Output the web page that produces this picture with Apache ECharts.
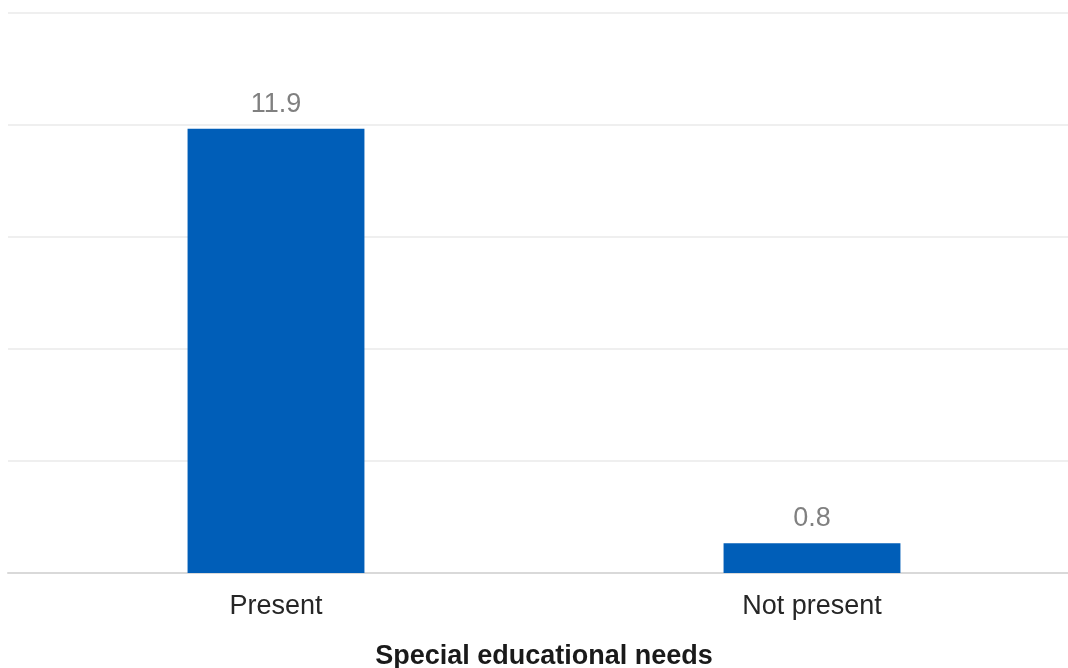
<!DOCTYPE html>
<html>
<head>
<meta charset="utf-8">
<script src="https://cdn.jsdelivr.net/npm/echarts@6/dist/echarts.min.js"></script>
<style>html,body{margin:0;padding:0;background:#fff}#c{width:1068px;height:668px}</style>
</head>
<body>
<div id="c"></div>
<script>
const categories = ['Present', 'Not present'];
const values = [11.9, 0.8];
const axisTitle = 'Special educational needs';

const chart = echarts.init(document.getElementById('c'), null, {renderer: 'canvas'});
chart.setOption({
  animation: false,
  grid: {left: 8, top: 13, bottom: 95, width: 1072, containLabel: false, outerBoundsMode: 'none'},
  xAxis: {
    type: 'category',
    data: categories,
    name: axisTitle,
    nameLocation: 'middle',
    nameGap: 70,
    nameTextStyle: {fontFamily: 'Liberation Sans', fontSize: 27, fontWeight: 'bold', color: '#1a1a1a'},
    axisLine: {lineStyle: {color: '#d9d9d9', width: 2}},
    axisTick: {show: false},
    axisLabel: {fontFamily: 'Liberation Sans', fontSize: 27, color: '#262626', margin: 20}
  },
  yAxis: {
    type: 'value',
    min: 0, max: 15, interval: 3,
    axisLabel: {show: false},
    axisLine: {show: false},
    axisTick: {show: false},
    splitLine: {lineStyle: {color: '#efefef', width: 2}}
  },
  series: [{
    type: 'bar',
    data: values,
    barWidth: '33%',
    itemStyle: {color: '#005EB8'},
    label: {show: true, position: 'top', distance: 11, fontFamily: 'Liberation Sans', fontSize: 27, color: '#808080', formatter: p => p.value.toFixed(1)}
  }]
});
</script>
</body>
</html>
